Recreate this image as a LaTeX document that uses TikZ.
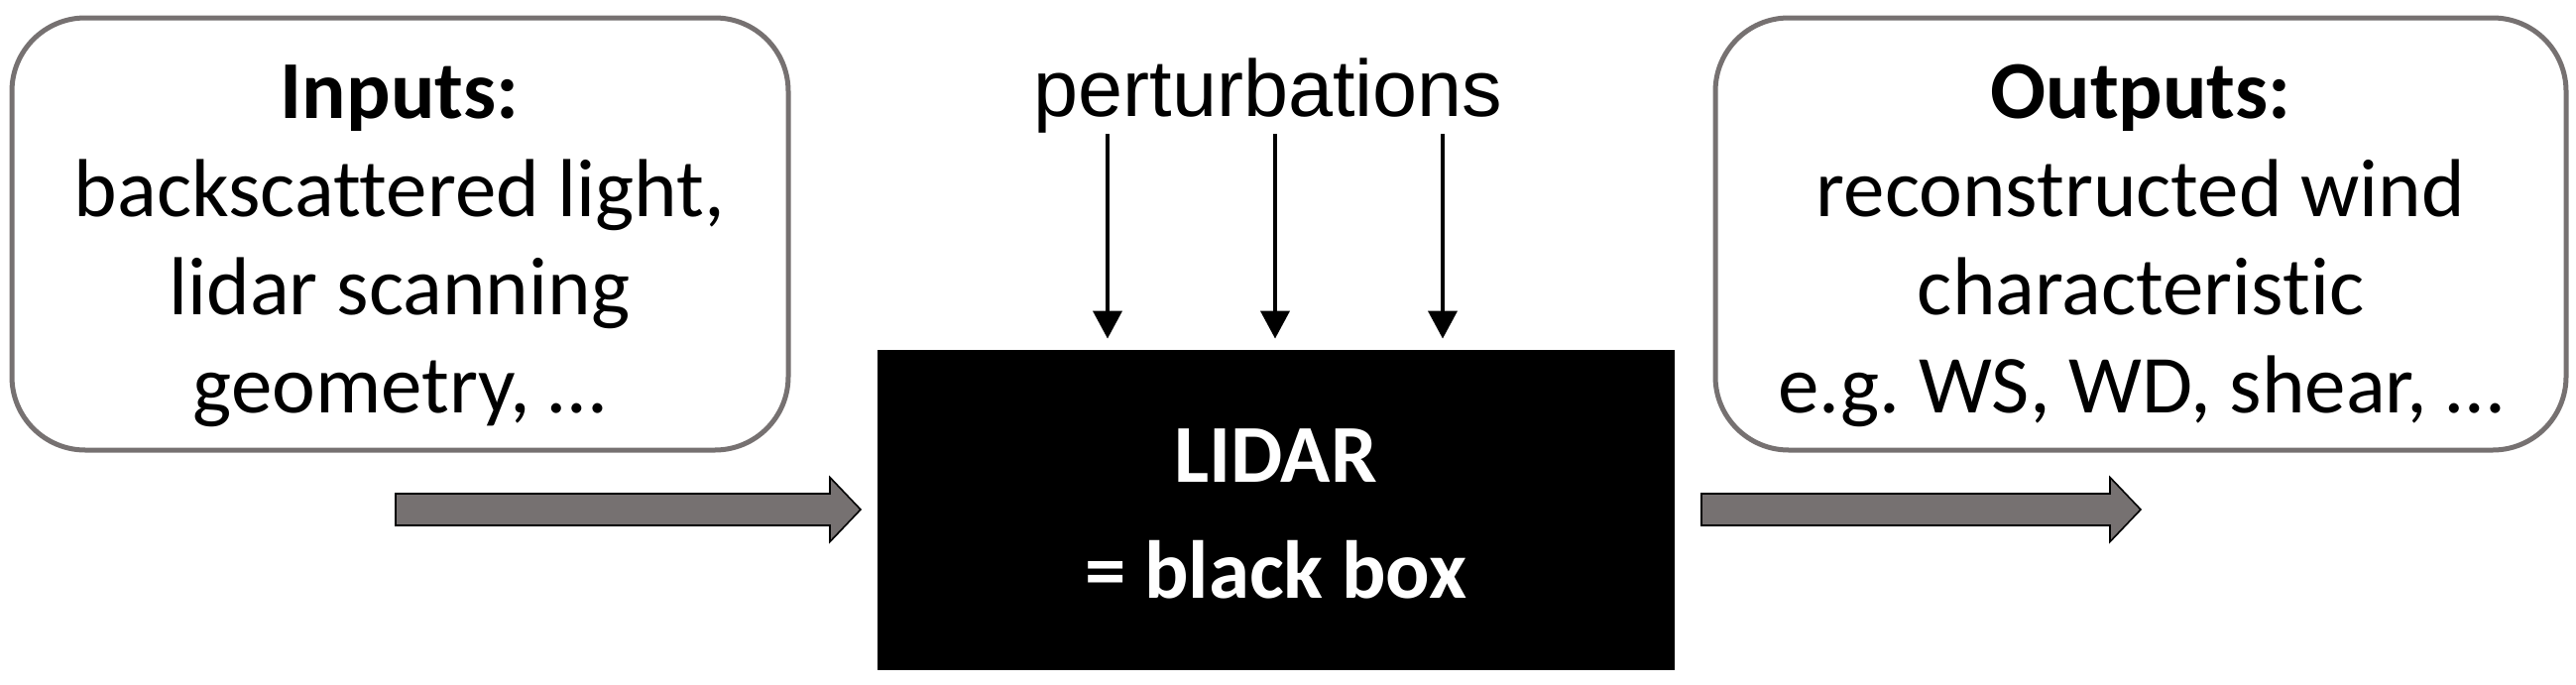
\documentclass[tikz,border=0pt]{standalone}
\usepackage{fontspec}
\setmainfont{Carlito}[Ligatures=NoCommon]
\newfontfamily\arialf{Liberation Sans}
\usetikzlibrary{arrows.meta,calc}
\definecolor{boxgray}{HTML}{767171}
\frenchspacing
\begin{document}
\begin{tikzpicture}[x=0.5pt,y=-0.5pt,
  roundbox/.style={draw=boxgray, line width=2.5pt, rounded corners=37pt, fill=white,
    minimum width=#1, minimum height=218pt, inner sep=0pt},
  boxtext/.style={align=center, font=\fontsize{41.5}{49.5}\selectfont},
  blackbox/.style={fill=black, draw=black, minimum width=401.5pt, minimum height=161pt, inner sep=0pt,
    text=white, align=center, font=\fontsize{41.5}{58.5}\selectfont\bfseries},
  pertarrow/.style={line width=2pt, -{Triangle[width=14.5pt,length=14pt]}},
  blockarrow/.style={fill=boxgray, draw=black, line width=0.8pt, line join=miter}
]
\useasboundingbox (0,0) rectangle (2598,691);

% boxes
\node[roundbox=391.5pt] (in) at (403.5,236) {};
\node[boxtext] (intext) at (403,248) {\textbf{Inputs:}\\backscattered light,\\lidar scanning\\geometry, \dots};
\node[roundbox=429pt] (out) at (2159,236) {};
\node[boxtext] (outtext) at (2159,248) {\textbf{Outputs:}\\reconstructed wind\\characteristic\\e.g. WS, WD, shear, \dots};

\node[blackbox] (lidar) at (1286.5,514) {};
\node[blackbox, fill=none, draw=none] (lidartext) at (1286.5,518) {LIDAR\\= black box};

% perturbations
\node[anchor=base, inner sep=0pt, font=\arialf\fontsize{40.5}{48}\selectfont] (pert) at (1279,117) {perturbations};
\coordinate (p1) at (1117,135);
\coordinate (p2) at (1286,135);
\coordinate (p3) at (1455,135);
\foreach \p in {p1,p2,p3}
  \draw[pertarrow, shorten >=5.5pt] (\p) -- (\p |- lidar.north);

% block arrows
\coordinate (la0) at (399,514);
\coordinate (la1) at (868,514);
\coordinate (ra0) at (1716,514);
\coordinate (ra1) at (2159,514);
\foreach \a/\b in {la0/la1, ra0/ra1}
  \draw[blockarrow] ($(\a)+(0,-16)$) -- ($(\b)+(-31,-16)$) -- ($(\b)+(-31,-32.5)$) -- (\b)
    -- ($(\b)+(-31,32.5)$) -- ($(\b)+(-31,16)$) -- ($(\a)+(0,16)$) -- cycle;
\end{tikzpicture}
\end{document}
